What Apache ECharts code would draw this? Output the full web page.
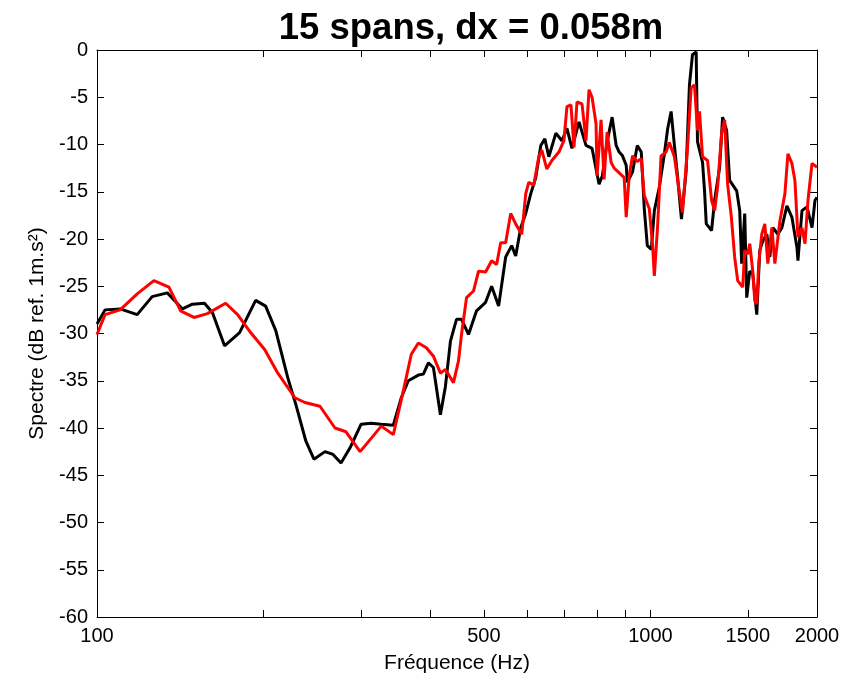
<!DOCTYPE html>
<html>
<head>
<meta charset="utf-8">
<script src="https://cdn.jsdelivr.net/npm/echarts@6/dist/echarts.min.js"></script>
<style>
html,body{margin:0;padding:0;background:#fff;}
#chart{width:857px;height:679px;}
</style>
</head>
<body>
<div id="chart"></div>
<script>
// Frequency ticks (Hz) and labels
const tickFreqs = [100, 200, 300, 400, 500, 600, 700, 800, 900, 1000, 1500, 2000];
const labelFreqs = [100, 500, 1000, 1500, 2000];

// Black curve
const freqBlack = [
  100, 103.4, 110.1, 118.2, 125.8, 134.0, 142.7, 148.7, 156.4, 161.7,
  170.0, 181.0, 193.5, 201.7, 210.4, 221.2, 228.7, 238.5, 246.6, 258.2,
  267.0, 276.0, 286.6, 300.1, 312.9, 326.3, 343.1, 354.7, 365.2, 380.8,
  388.8, 397.0, 405.4, 417.4, 426.2, 435.2, 446.3, 455.7, 469.2, 485.1,
  503.7, 516.5, 531.8, 547.6, 561.5, 570.9, 583.0, 595.3, 607.9, 620.7,
  633.8, 644.5, 655.3, 674.8, 692.0, 706.6, 721.5, 743.0, 764.9, 784.4,
  807.6, 818.8, 835.2, 852.8, 867.2, 878.1, 890.4, 904.2, 908.7, 928.4,
  946.8, 962.7, 974.8, 987.2, 1003.8, 1016.5, 1037.9, 1059.8, 1074.6, 1090.0,
  1105.0, 1120.4, 1137.9, 1160.0, 1176.4, 1191.3, 1209.7, 1216.4, 1242.2, 1252.6,
  1261.6, 1289.8, 1306.3, 1333.8, 1350.5, 1373.1, 1390.5, 1431.9, 1450.0, 1462.0,
  1480.6, 1493.0, 1511.9, 1530.9, 1556.6, 1576.3, 1596.2, 1623.1, 1643.5, 1664.4,
  1699.5, 1728.1, 1764.6, 1801.8, 1840.0, 1847.6, 1878.9, 1918.3, 1958.9, 1983.4,
  2000
];
const specBlack = [
  -29.0, -27.5, -27.4, -28.0, -26.1, -25.7, -27.4, -26.9, -26.8, -27.8,
  -31.3, -29.9, -26.5, -27.1, -29.7, -34.7, -37.5, -41.4, -43.3, -42.5,
  -42.8, -43.7, -42.1, -39.6, -39.5, -39.6, -39.7, -36.8, -35.0, -34.4,
  -34.3, -33.1, -33.6, -38.6, -35.6, -30.8, -28.5, -28.5, -30.1, -27.6,
  -26.7, -25.0, -27.1, -21.9, -20.7, -21.8, -18.8, -17.3, -15.2, -13.5,
  -10.1, -9.4, -11.3, -8.8, -9.6, -8.3, -10.4, -7.6, -10.1, -10.4,
  -14.2, -13.3, -9.7, -7.1, -10.1, -10.8, -11.2, -12.2, -14.0, -12.9,
  -10.1, -10.8, -16.8, -20.7, -21.1, -17.0, -14.5, -11.0, -8.3, -6.5,
  -10.1, -13.6, -17.9, -12.9, -3.7, -0.5, -0.2, -9.7, -11.9, -14.9,
  -18.4, -19.1, -15.9, -12.4, -7.1, -8.5, -13.8, -14.9, -17.0, -22.6,
  -17.3, -26.2, -23.4, -23.7, -28.0, -21.2, -20.2, -19.5, -21.9, -18.8,
  -19.5, -18.8, -16.5, -17.7, -20.9, -22.3, -17.0, -16.6, -18.8, -15.9,
  -15.6
];

// Red curve
const freqRed = [
  100, 103.4, 110.1, 118.2, 126.7, 134.9, 141.6, 149.7, 158.3, 170.8,
  179.5, 189.5, 200.9, 212.2, 227.8, 237.5, 252.9, 269.2, 281.8, 298.8,
  312.9, 326.3, 343.1, 357.6, 369.8, 380.8, 393.7, 405.4, 417.4, 426.2,
  440.7, 450.0, 455.7, 465.3, 479.1, 489.2, 503.7, 516.5, 527.4, 536.3,
  547.6, 559.2, 570.9, 585.5, 595.3, 602.8, 615.5, 628.5, 636.4, 649.9,
  663.7, 683.3, 697.8, 706.6, 718.5, 727.6, 736.8, 752.3, 764.9, 774.6,
  784.4, 797.6, 800.9, 814.4, 824.6, 835.2, 849.3, 860.0, 878.1, 896.6,
  904.2, 915.6, 928.4, 946.8, 962.7, 974.8, 995.4, 1009.2, 1016.5, 1030.5,
  1045.3, 1067.3, 1082.1, 1105.0, 1128.4, 1142.6, 1166.7, 1184.6, 1201.3, 1216.4,
  1226.6, 1242.2, 1268.5, 1289.8, 1306.3, 1322.6, 1344.9, 1361.8, 1378.8, 1400.6,
  1419.8, 1437.8, 1468.4, 1480.6, 1499.2, 1511.9, 1530.9, 1543.6, 1556.6, 1569.8,
  1589.5, 1609.7, 1629.9, 1657.5, 1678.3, 1713.8, 1750.0, 1772.1, 1801.8, 1824.4,
  1847.6, 1878.9, 1902.5, 1926.5, 1958.9, 2000
];
const specRed = [
  -30.1, -28.0, -27.5, -25.8, -24.4, -25.1, -27.6, -28.3, -27.9, -26.8,
  -28.0, -29.9, -31.7, -34.2, -36.8, -37.3, -37.7, -40.0, -40.4, -42.5,
  -41.1, -39.8, -40.7, -36.1, -32.2, -31.0, -31.5, -32.4, -34.2, -33.8,
  -35.2, -32.9, -30.1, -26.2, -25.5, -23.4, -23.5, -22.3, -22.7, -20.4,
  -20.4, -17.3, -18.4, -19.5, -15.2, -14.0, -14.3, -11.3, -10.6, -12.6,
  -11.7, -10.8, -9.6, -6.0, -5.8, -10.3, -5.5, -5.7, -9.6, -4.2,
  -5.0, -7.8, -13.3, -7.4, -13.7, -8.7, -11.9, -12.5, -13.0, -13.5,
  -17.7, -13.3, -11.2, -11.8, -11.5, -15.4, -16.8, -20.7, -23.9, -18.6,
  -11.2, -10.8, -9.8, -11.3, -15.1, -17.2, -10.5, -4.0, -3.7, -8.5,
  -6.5, -11.3, -11.7, -15.9, -17.0, -14.5, -8.8, -7.4, -14.2, -17.7,
  -21.9, -24.4, -25.1, -21.2, -21.6, -20.5, -23.4, -26.5, -26.9, -22.5,
  -19.5, -18.4, -22.6, -18.8, -22.6, -18.1, -15.2, -11.0, -12.0, -13.8,
  -19.8, -18.8, -20.5, -15.9, -12.0, -12.4
];

const lg = Math.log10;
const toPts = (fs, vs) => fs.map((f, i) => [lg(f), vs[i]]);
const fontFam = "'Liberation Sans', Arial, Helvetica, sans-serif";

const tickCfg = { show: true, inside: true, length: 7, lineStyle: { color: '#000', width: 1 } };
const lineCfg = { show: true, onZero: false, lineStyle: { color: '#000', width: 1 } };

const chart = echarts.init(document.getElementById('chart'), null, { renderer: 'canvas' });
chart.setOption({
  animation: false,
  backgroundColor: '#fff',
  title: {
    text: '15 spans, dx = 0.058m',
    left: 466, top: 5, textAlign: 'center',
    textStyle: { fontFamily: fontFam, fontWeight: 'bold', fontSize: 36.5, color: '#000' }
  },
  grid: { left: 97, right: 40, top: 50, bottom: 61 },
  xAxis: [{
    type: 'value', position: 'bottom',
    min: lg(100), max: lg(2000),
    name: 'Fréquence (Hz)', nameLocation: 'middle', nameGap: 36,
    nameTextStyle: { fontFamily: fontFam, fontSize: 21, color: '#000' },
    axisLine: lineCfg,
    axisTick: Object.assign({}, tickCfg, { customValues: tickFreqs.map(lg) }),
    axisLabel: {
      customValues: labelFreqs.map(lg), margin: 9,
      formatter: v => String(Math.round(Math.pow(10, v))),
      fontFamily: fontFam, fontSize: 20, color: '#000'
    },
    splitLine: { show: false }
  }, {
    type: 'value', position: 'top',
    min: lg(100), max: lg(2000),
    axisLine: lineCfg,
    axisTick: Object.assign({}, tickCfg, { customValues: tickFreqs.map(lg) }),
    axisLabel: { show: false },
    splitLine: { show: false }
  }],
  yAxis: [{
    type: 'value', position: 'left',
    min: -60, max: 0, interval: 5,
    name: 'Spectre (dB ref. 1m.s²)', nameLocation: 'middle', nameGap: 48, nameRotate: 90,
    nameTextStyle: { fontFamily: fontFam, fontSize: 21, color: '#000' },
    axisLine: lineCfg,
    axisTick: tickCfg,
    axisLabel: { margin: 9, fontFamily: fontFam, fontSize: 20, color: '#000' },
    splitLine: { show: false }
  }, {
    type: 'value', position: 'right',
    min: -60, max: 0, interval: 5,
    axisLine: lineCfg,
    axisTick: tickCfg,
    axisLabel: { show: false },
    splitLine: { show: false }
  }],
  series: [{
    name: 'black', type: 'line', xAxisIndex: 0, yAxisIndex: 0,
    data: toPts(freqBlack, specBlack),
    showSymbol: false, symbol: 'none',
    lineStyle: { color: '#000', width: 3 },
    itemStyle: { color: '#000' }
  }, {
    name: 'red', type: 'line', xAxisIndex: 0, yAxisIndex: 0,
    data: toPts(freqRed, specRed),
    showSymbol: false, symbol: 'none',
    lineStyle: { color: '#ff0000', width: 3 },
    itemStyle: { color: '#ff0000' }
  }]
});
</script>
</body>
</html>
